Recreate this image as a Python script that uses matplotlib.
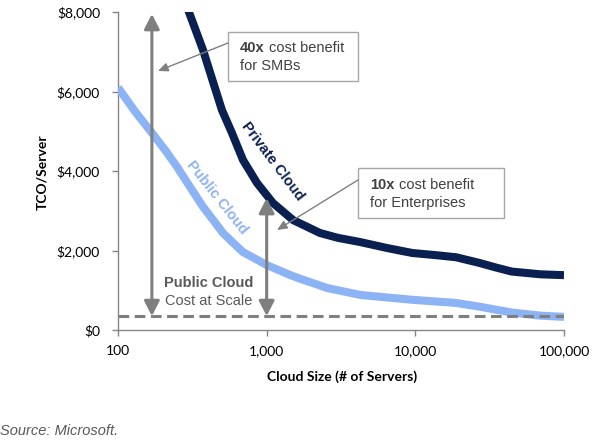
import numpy as np
import matplotlib.pyplot as plt
from matplotlib.patches import Rectangle, FancyArrowPatch
from matplotlib.ticker import FixedLocator, FuncFormatter

# values (servers, $ per server)
private_x = [270, 300, 373, 435, 500, 584, 693, 861, 1102, 1502, 2281, 3000,
             4236, 6500, 9550, 14000, 18800, 26800, 35000, 44500, 70000, 100000]
private_y = [8470, 8000, 7045, 6250, 5535, 4957, 4277, 3699, 3196, 2768, 2441, 2320,
             2214, 2060, 1937, 1880, 1830, 1690, 1570, 1470, 1400, 1380]

public_x = [100, 130, 169, 210, 250, 305, 373, 440, 508, 600, 693, 850, 1005, 1200,
            1436, 1674, 2050, 2546, 4300, 9550, 18800, 26800, 35000, 44500, 70000,
            100000]
public_y = [6100, 5500, 4960, 4500, 4100, 3600, 3100, 2750, 2440, 2180, 1960, 1780,
            1630, 1510, 1384, 1290, 1180, 1057, 880, 760, 680, 590, 510, 440, 360, 330]

scale_cost = 340
xticks = [100, 1000, 10000, 100000]
yticks = [0, 2000, 4000, 6000, 8000]

navy = '#0a2050'
light = '#8cb4f4'
gray = '#7f7f7f'
txt = '#595959'

W, H = 597, 442
fig = plt.figure(figsize=(W / 100, H / 100), dpi=100)
ax = fig.add_axes([118 / W, 1 - 330 / H, (564 - 118) / W, (330 - 12) / H])


def px(x, y):
    # pixel position in the picture -> figure fraction
    return x / W, 1 - y / H


ax.set_xscale('log')
ax.set_xlim(100, 100000)
ax.set_ylim(0, 8000)

ax.plot(public_x, public_y, color=light, lw=5.8, solid_capstyle='butt',
        solid_joinstyle='round', zorder=3)
ax.plot(private_x, private_y, color=navy, lw=5.8, solid_capstyle='butt',
        solid_joinstyle='round', zorder=3)
ax.plot([100, 100000], [scale_cost, scale_cost], color=gray, lw=2.2,
        dashes=(3.5, 1.8), zorder=4)

# double headed arrows from scale cost up to the curves
for xa, ytop in [(169, 7950), (1000, 3320)]:
    arr = FancyArrowPatch((xa, scale_cost + 10), (xa, ytop),
                          arrowstyle='<|-|>,head_length=0.45,head_width=0.23',
                          mutation_scale=20, color=gray, lw=2.2,
                          shrinkA=0, shrinkB=0, zorder=5)
    ax.add_patch(arr)

# spines and ticks
for s in ['top', 'right']:
    ax.spines[s].set_visible(False)
for s in ['left', 'bottom']:
    ax.spines[s].set_color('#868686')
    ax.spines[s].set_linewidth(1)
ax.xaxis.set_major_locator(FixedLocator(xticks))
ax.xaxis.set_minor_locator(FixedLocator([]))
ax.xaxis.set_major_formatter(FuncFormatter(lambda v, p: f'{int(v):,}'))
ax.yaxis.set_major_locator(FixedLocator(yticks))
ax.yaxis.set_major_formatter(FuncFormatter(lambda v, p: f'${int(v):,}'))
ax.tick_params(axis='both', colors='#868686', length=4, width=1,
               labelcolor='black', labelsize=10)
ax.tick_params(axis='y', pad=9)
ax.tick_params(axis='x', pad=7)
for lab in ax.get_xticklabels() + ax.get_yticklabels():
    lab.set_family('Lato')

fig.text(*px(42, 172), 'TCO/Server', rotation=90, ha='center', va='center',
         fontsize=10, fontweight='bold', family='Lato')
fig.text(*px(342, 377), 'Cloud Size (# of Servers)', ha='center', va='center',
         fontsize=10, fontweight='bold', family='Lato')
fig.text(*px(0, 431), 'Source: Microsoft.', ha='left', va='center',
         fontsize=10.5, style='italic', color=txt, family='Liberation Sans')

# curve labels
fig.text(*px(273, 161), 'Private Cloud', rotation=-53, ha='center', va='center',
         fontsize=10.5, fontweight='bold', color=navy, family='Liberation Sans')
fig.text(*px(217, 197), 'Public Cloud', rotation=-51.5, ha='center', va='center',
         fontsize=10.5, fontweight='bold', color=light, family='Liberation Sans')

fig.text(*px(209, 283), 'Public Cloud', ha='center', va='center', fontsize=10.5,
         fontweight='bold', color=txt, family='Liberation Sans')
fig.text(*px(209, 301), 'Cost at Scale', ha='center', va='center', fontsize=10.5,
         color=txt, family='Liberation Sans')

# callout boxes
boxes = [((228, 32, 358, 81), '40x', 'for SMBs', (240, 269), (48, 66),
          (228, 43), (158, 71)),
         ((358, 168, 504, 218), '10x', 'for Enterprises', (370, 399), (185, 203),
          (358, 180), (277, 230))]
for (x0, y0, x1, y1), big, line2, (tx0, tx1), (ty1, ty2), start, end in boxes:
    fx0, fy1 = px(x0, y1)
    fx1, fy0 = px(x1, y0)
    fig.patches.append(Rectangle((fx0, fy1), fx1 - fx0, fy0 - fy1,
                                 transform=fig.transFigure, fill=False,
                                 edgecolor='#a6a6a6', lw=1))
    fig.text(*px(tx0, ty1), big, ha='left', va='center', fontsize=10.5,
             fontweight='bold', color='#404040', family='Liberation Sans')
    fig.text(*px(tx1, ty1), 'cost benefit', ha='left', va='center', fontsize=10.5,
             color='#404040', family='Liberation Sans')
    fig.text(*px(tx0, ty2), line2, ha='left', va='center', fontsize=10.5,
             color='#404040', family='Liberation Sans')
    fig.patches.append(FancyArrowPatch(px(*start), px(*end),
                                       transform=fig.transFigure,
                                       arrowstyle='-|>,head_length=0.5,head_width=0.22',
                                       mutation_scale=12, color=gray, lw=1,
                                       shrinkA=0, shrinkB=0))

fig.savefig('out.png', dpi=100)
